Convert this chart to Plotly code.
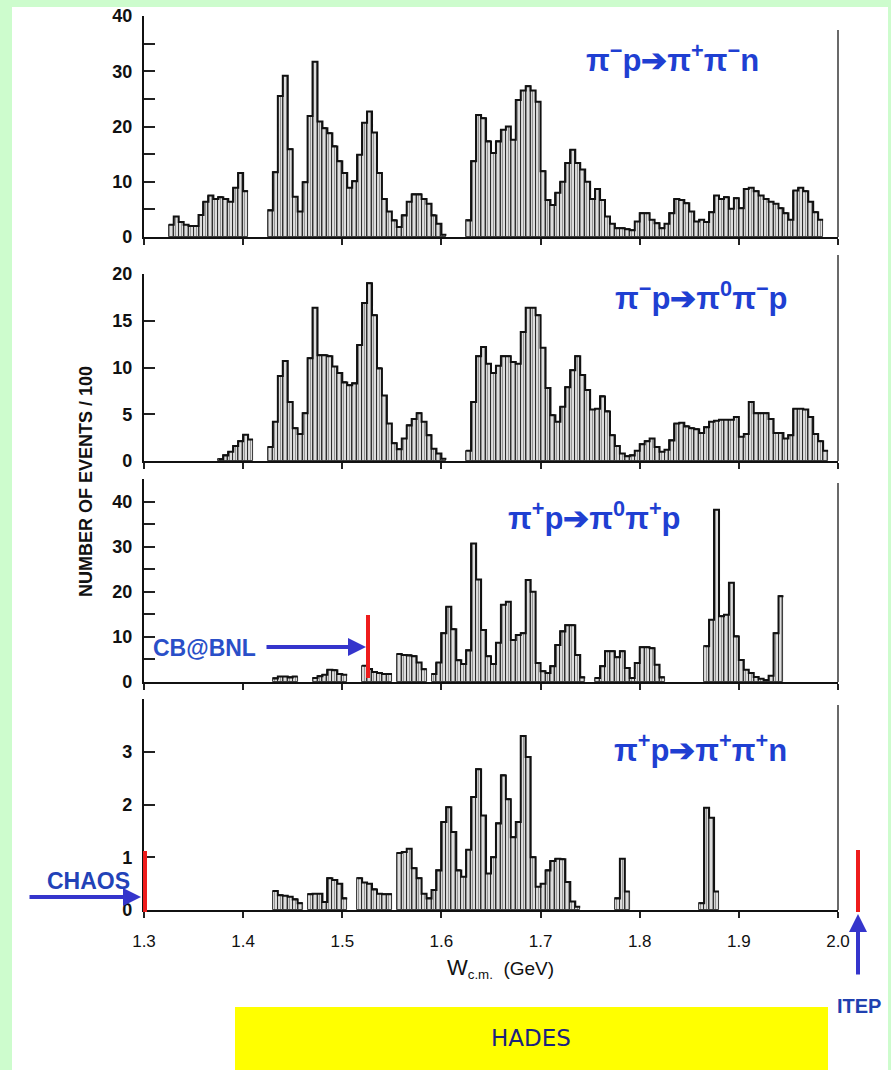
import plotly.graph_objects as go

# ---------------- data (W in GeV, 5 MeV bins, counts / 100) ----------------
BIN = 0.005

# each reaction: list of (first bin lower edge, counts)
pim_p_pip_pim_n = [
    (1.325, [2.2, 3.7, 2.7, 2.2, 2.0, 2.0, 4.0, 6.4, 7.5, 6.9, 7.2, 6.9, 6.4, 8.9, 11.6, 8.3]),
    (1.425, [4.8, 11.7, 25.5, 29.2, 15.9, 7.3, 4.6, 9.9, 21.9, 31.7, 20.9, 19.7, 18.8, 16.4,
             13.7, 11.6, 8.9, 10.1, 14.9, 20.7, 22.7, 18.9, 11.6, 6.9, 4.6, 3.0, 1.8, 3.9,
             6.4, 7.7, 7.7, 6.9, 6.0, 3.9, 2.4, 0.4]),
    (1.625, [3.0, 13.7, 22.1, 21.5, 17.3, 15.2, 17.3, 19.4, 20.0, 17.6, 24.8, 26.5, 27.3,
             26.5, 24.5, 11.9, 6.7, 5.8, 8.0, 10.0, 13.4, 15.8, 13.4, 12.2, 10.0, 6.9, 8.7,
             6.7, 3.7, 2.4, 1.6, 1.6, 1.4, 1.2, 2.8, 4.3, 4.3, 3.1, 2.5, 1.6, 2.4, 4.3, 6.9,
             6.7, 6.1, 4.6, 2.8, 3.1, 2.7, 4.5, 7.5, 6.9, 7.2, 5.1, 7.0, 5.2, 8.7, 8.9, 8.3,
             7.5, 6.9, 6.4, 6.0, 5.2, 4.3, 3.1, 8.4, 8.9, 8.3, 6.4, 4.5, 3.1]),
]

pim_p_pi0_pim_p = [
    (1.375, [0.2, 0.6, 1.0, 1.6, 2.1, 2.8, 2.3]),
    (1.425, [1.5, 4.2, 9.1, 10.7, 6.3, 3.5, 2.9, 5.1, 11.0, 16.4, 11.3, 11.3, 11.2, 10.1,
             9.4, 8.4, 8.1, 8.3, 12.4, 16.9, 19.0, 15.6, 9.9, 7.0, 4.0, 1.9, 1.25, 2.4, 3.8,
             4.5, 5.1, 4.2, 2.75, 1.3, 0.8, 0.25]),
    (1.625, [1.1, 6.3, 11.2, 12.2, 10.4, 9.4, 10.2, 11.2, 11.2, 10.6, 10.4, 13.8, 16.4,
             16.4, 15.6, 12.1, 7.8, 4.9, 4.2, 5.8, 7.9, 9.7, 11.2, 9.2, 7.6, 5.5, 5.6, 6.9,
             5.3, 2.75, 1.6, 0.8, 0.5, 0.6, 1.1, 1.8, 2.1, 2.4, 1.5, 1.0, 1.2, 2.2, 4.0, 4.1,
             3.7, 3.5, 3.4, 3.0, 3.6, 4.2, 4.3, 4.4, 4.4, 4.4, 4.7, 2.6, 2.9, 6.3, 5.1, 5.1,
             5.1, 4.5, 3.0, 3.0, 2.4, 2.75, 5.6, 5.6, 5.5, 4.7, 2.9, 2.1, 1.1]),
]

pip_p_pi0_pip_p = [
    (1.430, [0.8, 1.2, 1.2, 1.0, 1.2]),
    (1.470, [0.9, 1.25, 1.6, 2.7, 2.6, 1.8, 1.6]),
    (1.520, [3.6, 2.9, 2.2, 2.0, 1.8, 1.8]),
    (1.555, [6.2, 6.0, 5.9, 5.7, 4.3, 2.8]),
    (1.590, [1.8, 4.3, 10.8, 16.7, 11.7, 4.8, 4.0, 7.0, 30.7, 22.7, 11.5, 5.7, 4.0, 8.7,
             17.1, 17.8, 9.3, 10.4, 10.8, 22.6, 20.0, 4.2, 2.4, 2.0, 3.5, 8.2, 11.2, 12.6,
             12.6, 6.0, 1.0]),
    (1.755, [0.9, 3.5, 6.8, 6.8, 5.5, 6.8, 3.1, 0.9, 4.2, 7.7, 7.7, 7.5, 3.8, 1.0]),
    (1.865, [7.9, 13.8, 38.2, 14.6, 14.9, 22.0, 10.1, 4.9, 2.7, 2.0, 1.1, 0.7, 0.4, 1.4,
             10.8, 19.0]),
]

pip_p_pip_pip_n = [
    (1.430, [0.36, 0.28, 0.27, 0.25, 0.2, 0.13]),
    (1.465, [0.3, 0.31, 0.31, 0.15, 0.6, 0.57, 0.5, 0.22]),
    (1.515, [0.6, 0.52, 0.5, 0.39, 0.31, 0.3, 0.3]),
    (1.555, [1.08, 1.1, 1.16, 0.79, 0.6, 0.31, 0.22, 0.38, 0.75, 1.67, 1.95, 1.48, 0.75,
             0.63, 1.14, 2.14, 2.67, 1.79, 0.69, 1.0, 1.64, 2.55, 2.1, 1.38, 1.67, 3.3, 2.9,
             1.0, 0.44, 0.5, 0.75, 0.93, 0.97, 0.96, 0.53, 0.16, 0.06]),
    (1.775, [0.22, 0.97, 0.35]),
    (1.860, [0.13, 1.94, 1.75, 0.35]),
]

reaction_labels = [
    "π<sup>−</sup>p➔π<sup>+</sup>π<sup>−</sup>n",
    "π<sup>−</sup>p➔π<sup>0</sup>π<sup>−</sup>p",
    "π<sup>+</sup>p➔π<sup>0</sup>π<sup>+</sup>p",
    "π<sup>+</sup>p➔π<sup>+</sup>π<sup>+</sup>n",
]
x_tickvals = [1.3, 1.4, 1.5, 1.6, 1.7, 1.8, 1.9, 2.0]
x_ticktext = ["1.3", "1.4", "1.5", "1.6", "1.7", "1.8", "1.9", "2.0"]

# ---------------- layout helpers (pixel -> paper) ----------------
W, H = 891, 1070
def px(x): return x / W
def py(y): return 1 - y / H

panels = [
    # data, y range, major ticks, minor dtick, top px, bottom px, right-line top px, label pos
    (pim_p_pip_pim_n, [0, 40], [0, 10, 20, 30, 40], 5, 16, 237, 30, (672, 58)),
    (pim_p_pi0_pim_p, [0, 20], [0, 5, 10, 15, 20], None, 274, 461, 255, (701, 296)),
    (pip_p_pi0_pip_p, [0, 45], [0, 10, 20, 30, 40], 5, 479, 682, 483, (594, 516)),
    (pip_p_pip_pip_n, [0, 4], [0, 1, 2, 3], 1, 699, 910, 705, (700, 748)),
]
X0, X1 = 144, 838

fig = go.Figure()
layout = dict(
    width=W, height=H, margin=dict(l=0, r=0, t=0, b=0, autoexpand=False),
    paper_bgcolor="#cdfccd", plot_bgcolor="rgba(0,0,0,0)",
    showlegend=False, bargap=0,
)
shapes = [dict(type="rect", xref="paper", yref="paper", x0=px(12), x1=px(888),
               y0=0, y1=py(7), fillcolor="white", line=dict(width=0), layer="below")]
annotations = []

for k, (segs, yr, majors, minor, top, bot, rtop, lab) in enumerate(panels):
    n = "" if k == 0 else str(k + 1)
    xa, ya = "x" + n, "y" + n
    for start, vals in segs:
        centers = [start + (i + 0.5) * BIN for i in range(len(vals))]
        fig.add_trace(go.Bar(
            x=centers, y=vals, width=BIN, xaxis=xa, yaxis=ya,
            marker=dict(color="white",
                        line=dict(color="#222", width=0.9),
                        pattern=dict(shape="|", fgcolor="#2a2a2a", bgcolor="white",
                                     size=3, solidity=0.55)),
            hoverinfo="skip"))
        edges = [start + i * BIN for i in range(len(vals) + 1)]
        fig.add_trace(go.Scatter(
            x=edges, y=list(vals) + [vals[-1]], mode="lines", xaxis=xa, yaxis=ya,
            line=dict(color="#111", width=2, shape="hv"), hoverinfo="skip"))
    last = (k == len(panels) - 1)
    layout["xaxis" + n] = dict(
        domain=[px(X0), px(X1)], range=[1.3, 2.0], anchor=ya, automargin=False,
        tickvals=x_tickvals, ticktext=x_ticktext if last else [""] * len(x_tickvals),
        showticklabels=last, ticks="outside", ticklen=6, tickwidth=2, tickcolor="#222",
        showline=True, linecolor="#111", linewidth=2.2, showgrid=False, zeroline=False,
        tickfont=dict(family="Liberation Sans, Arial", size=17, color="#111"),
        ticklabelstandoff=8, fixedrange=True)
    ydict = dict(
        domain=[py(bot), py(top)], range=yr, anchor=xa, automargin=False,
        tickvals=majors, ticks="inside", ticklen=11, tickwidth=2, tickcolor="#222",
        showline=True, linecolor="#111", linewidth=2.2, showgrid=False, zeroline=False,
        tickfont=dict(family="Liberation Sans, Arial", size=18, color="#111", weight="bold"),
        ticklabelstandoff=6, fixedrange=True)
    if minor:
        ydict["minor"] = dict(dtick=minor, tick0=0, ticks="inside", ticklen=11,
                              tickwidth=2, tickcolor="#222", showgrid=False)
    layout["yaxis" + n] = ydict
    # right-hand frame line
    shapes.append(dict(type="line", xref="paper", yref="paper", x0=px(838), x1=px(838),
                       y0=py(bot), y1=py(rtop), line=dict(color="#444", width=1.6)))
    annotations.append(dict(
        text="<b>" + reaction_labels[k] + "</b>", xref="paper", yref="paper",
        x=px(lab[0]), y=py(lab[1]), xanchor="center", yanchor="middle", showarrow=False,
        font=dict(family="Liberation Sans, Arial", size=31, color="#1f3fd2")))

# axis titles
annotations.append(dict(
    text="<b>NUMBER OF EVENTS / 100</b>", xref="paper", yref="paper", x=px(86), y=py(482),
    textangle=-90, showarrow=False, xanchor="center", yanchor="middle",
    font=dict(family="Liberation Sans, Arial", size=18, color="#111")))
annotations.append(dict(
    text="<span style='font-size:22px'>W</span><sub>c.m.</sub>  (GeV)", xref="paper",
    yref="paper", x=px(500), y=py(968),
    showarrow=False, xanchor="center", yanchor="middle",
    font=dict(family="Liberation Sans, Arial", size=19, color="#111")))

# experiment markers
red = "#ee1c1c"
blue_arrow = "#3535cc"
for (xr, y0r, y1r) in [(368, 615, 678), (145, 851, 912), (858, 850, 912)]:
    shapes.append(dict(type="line", xref="paper", yref="paper", x0=px(xr), x1=px(xr),
                       y0=py(y1r), y1=py(y0r), line=dict(color=red, width=4)))
# arrows
annotations.append(dict(x=px(366), y=py(647), ax=-101, ay=0, xref="paper", yref="paper",
                        text="", showarrow=True, arrowhead=2, arrowsize=0.9, arrowwidth=4,
                        arrowcolor=blue_arrow))
annotations.append(dict(x=px(141), y=py(897), ax=-113, ay=0, xref="paper", yref="paper",
                        text="", showarrow=True, arrowhead=2, arrowsize=0.9, arrowwidth=4,
                        arrowcolor=blue_arrow))
annotations.append(dict(x=px(858), y=py(914), ax=0, ay=62, xref="paper", yref="paper",
                        text="", showarrow=True, arrowhead=2, arrowsize=0.9, arrowwidth=4,
                        arrowcolor=blue_arrow))
for txt, xx, yy, sz, col in [("CB@BNL", 204, 648, 23, "#2a4fc8"),
                             ("CHAOS", 88, 881, 23, "#2242b8"),
                             ("ITEP", 859, 1006, 20, "#2040b0")]:
    annotations.append(dict(text="<b>" + txt + "</b>", xref="paper", yref="paper",
                            x=px(xx), y=py(yy), showarrow=False, xanchor="center",
                            yanchor="middle",
                            font=dict(family="Liberation Sans, Arial", size=sz, color=col)))

# HADES band
shapes.append(dict(type="rect", xref="paper", yref="paper", x0=px(235), x1=px(828),
                   y0=0, y1=py(1007), fillcolor="#ffff00", line=dict(width=0)))
annotations.append(dict(text="HADES", xref="paper", yref="paper", x=px(531), y=py(1038),
                        showarrow=False, xanchor="center", yanchor="middle",
                        font=dict(family="DejaVu Sans", size=23, color="#1a237e")))

layout["shapes"] = shapes
layout["annotations"] = annotations
fig.update_layout(**layout)
fig.write_html("out.html", config={"displayModeBar": False},
               post_script="document.body.style.margin='0';document.body.style.overflow='hidden';")
